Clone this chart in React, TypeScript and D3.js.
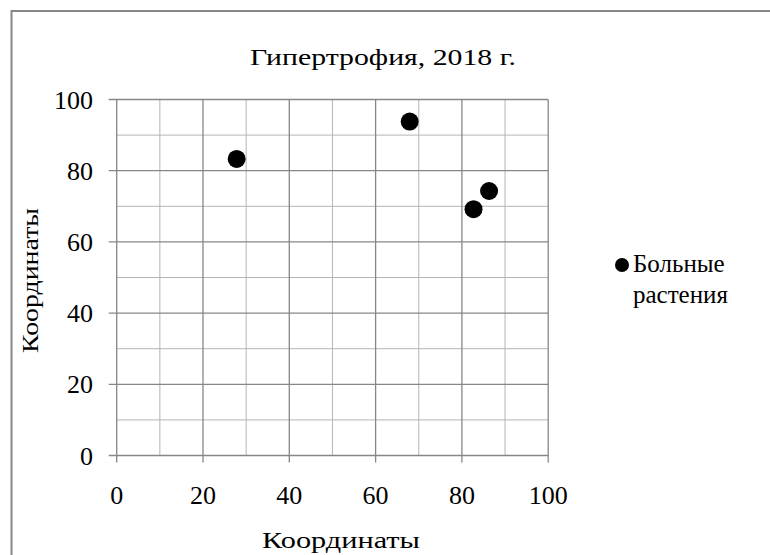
import React from "react";
import * as d3 from "d3";

const chartTitle = "Гипертрофия, 2018 г.";
const xAxisTitle = "Координаты";
const yAxisTitle = "Координаты";
const seriesName = ["Больные", "растения"];
const xValues = [27.8, 67.9, 86.3, 82.7];
const yValues = [83.3, 93.8, 74.3, 69.2];
const majorTicks = [0, 20, 40, 60, 80, 100];
const minorTicks = [10, 30, 50, 70, 90];

const W = 770;
const H = 555;
const FONT = "Liberation Serif, Times New Roman, Times, serif";
const MAJOR = "#878787";
const MINOR = "#b4b4b4";

export default function App() {
  const x = d3.scaleLinear().domain([0, 100]).range([116.7, 548.2]);
  const y = d3.scaleLinear().domain([0, 100]).range([455.5, 99.5]);
  const points = xValues.map((v, i) => ({ x: v, y: yValues[i] }));

  return (
    <svg
      width={W}
      height={H}
      style={{ position: "absolute", left: 0, top: 0, background: "#fff", fontFamily: FONT }}
    >
      <rect x={11.5} y={11} width={900} height={700} fill="#fff" stroke={MAJOR} strokeWidth={2} />
      <text x={383} y={65} textAnchor="middle" fontSize={23} textLength={266} lengthAdjust="spacingAndGlyphs">
        {chartTitle}
      </text>
      {minorTicks.map((t) => (
        <g key={"m" + t}>
          <line x1={x(t)} x2={x(t)} y1={y(0)} y2={y(100)} stroke={MINOR} strokeWidth={1} />
          <line x1={x(0)} x2={x(100)} y1={y(t)} y2={y(t)} stroke={MINOR} strokeWidth={1} />
        </g>
      ))}
      {majorTicks.map((t) => (
        <g key={"M" + t}>
          <line x1={x(t)} x2={x(t)} y1={y(0) + 7} y2={y(100)} stroke={MAJOR} strokeWidth={1.3} />
          <line x1={x(0) - 8} x2={x(100)} y1={y(t)} y2={y(t)} stroke={MAJOR} strokeWidth={1.3} />
          <text x={93} y={y(t) + 9} textAnchor="end" fontSize={26}>
            {d3.format("d")(t)}
          </text>
          <text x={x(t)} y={504} textAnchor="middle" fontSize={26}>
            {d3.format("d")(t)}
          </text>
        </g>
      ))}
      {points.map((p, i) => (
        <circle key={i} cx={x(p.x)} cy={y(p.y)} r={9} fill="#000" />
      ))}
      <text x={341} y={548} textAnchor="middle" fontSize={24} textLength={158} lengthAdjust="spacingAndGlyphs">
        {xAxisTitle}
      </text>
      <text
        transform={`translate(38,${280.5}) rotate(-90)`}
        textAnchor="middle"
        fontSize={24}
        textLength={145}
        lengthAdjust="spacingAndGlyphs"
      >
        {yAxisTitle}
      </text>
      <circle cx={622} cy={265} r={7} fill="#000" />
      <text x={633} y={272} fontSize={25}>
        {seriesName[0]}
      </text>
      <text x={633} y={303} fontSize={25}>
        {seriesName[1]}
      </text>
    </svg>
  );
}
